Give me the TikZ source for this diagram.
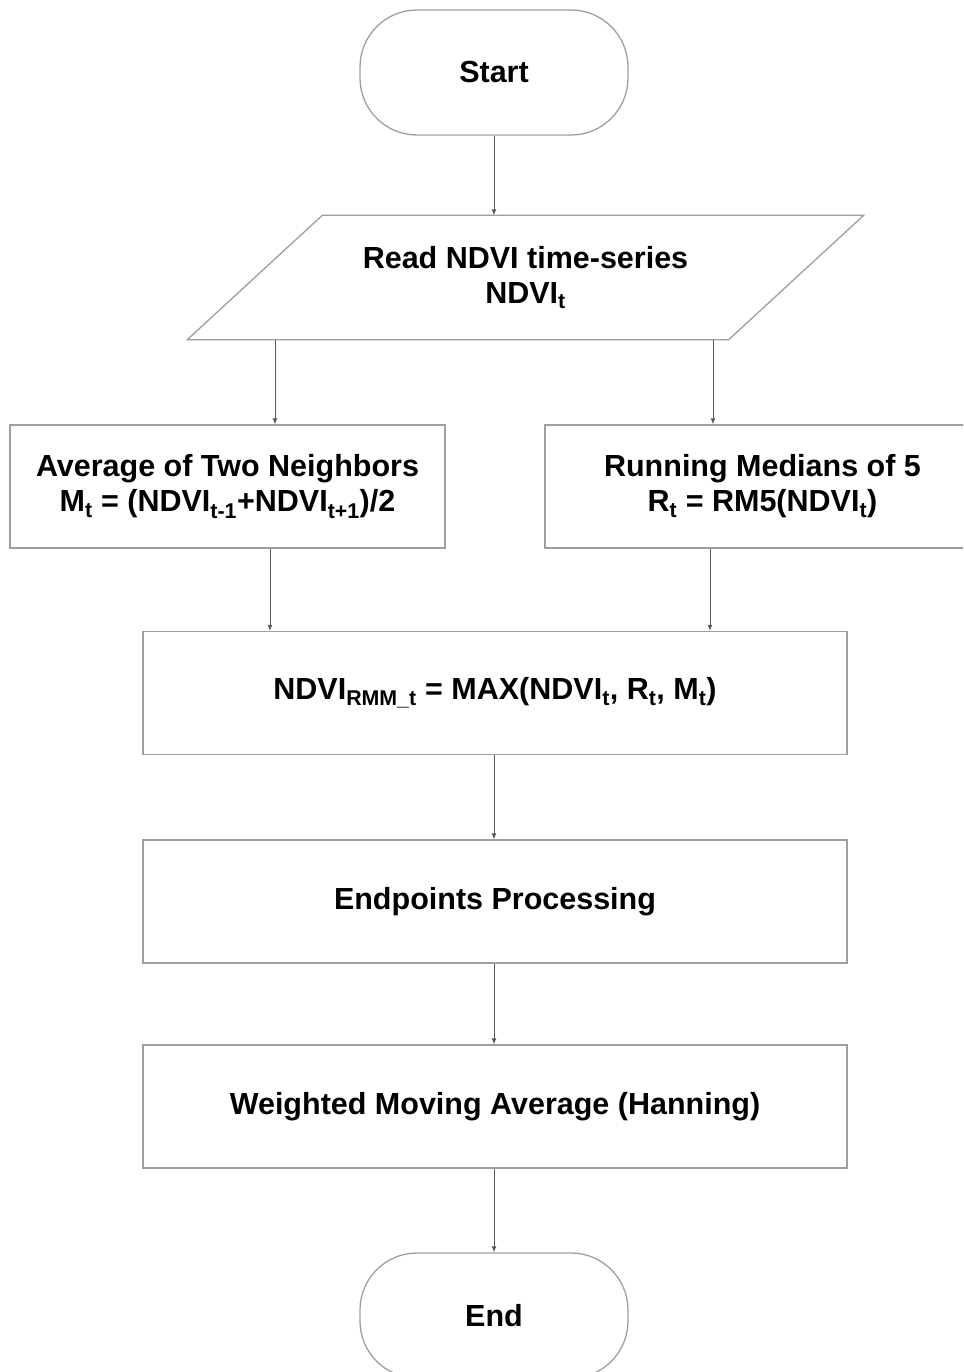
\documentclass[tikz,border=0pt]{standalone}
\usepackage{fontspec}
\setmainfont{Liberation Sans}
\usetikzlibrary{arrows.meta}
\newcommand{\lowsub}[1]{\textsubscript{#1}}
\begin{document}
\begin{tikzpicture}[x=1pt,y=-1pt,
  flowtext/.style={align=center,font=\fontsize{30.5}{35}\selectfont\bfseries},
  outline/.style={draw=gray!75,line width=1.3pt},
  termbox/.style={flowtext,outline,rectangle,rounded corners=57,minimum width=268,minimum height=125},
  iobox/.style={flowtext,rectangle,minimum width=541,minimum height=124},
  procbox/.style={flowtext,outline,rectangle,minimum width=704,minimum height=123},
  halfbox/.style={procbox,minimum width=435},
  arr/.style={draw=black!65,line width=1pt,-{Latex[length=6pt,width=5pt]}}]
	\useasboundingbox (0,0) rectangle (963,1372);
	\clip (0,0) rectangle (963,1372);
	\fill[white] (0,0) rectangle (963,1372);

	% flow chart nodes
	\node [termbox] (start) at (494,72.5) {Start};
	\node [iobox]   (read)  at (525.5,277.5) {Read NDVI time-series\\NDVI\lowsub{t}};
	\node [halfbox] (avg)   at (227.5,486.5) {Average of Two Neighbors\\M\lowsub{t} = (NDVI\lowsub{t-1}+NDVI\lowsub{t+1})/2};
	\node [halfbox] (run)   at (762.5,486.5) {Running Medians of 5\\R\lowsub{t} = RM5(NDVI\lowsub{t})};
	\node [procbox] (rmm)   at (495,693) {NDVI\lowsub{RMM\_t} = MAX(NDVI\lowsub{t}, R\lowsub{t}, M\lowsub{t})};
	\node [procbox] (endp)  at (495,901.5) {Endpoints Processing};
	\node [procbox] (hann)  at (495,1106.5) {Weighted Moving Average (Hanning)};
	\node [termbox] (stop)  at (494,1315.5) {End};

	% slanted sides of the input box
	\draw[outline] ([xshift=67.5]read.north west) -- ([xshift=67.5]read.north east)
		-- ([xshift=-67.5]read.south east) -- ([xshift=-67.5]read.south west) -- cycle;

	% branch columns
	\coordinate (inL)  at (275,0);
	\coordinate (inR)  at (713,0);
	\coordinate (outL) at (270,0);
	\coordinate (outR) at (710,0);

	\draw[arr] (start.south) -- (start.south |- read.north);
	\draw[arr] (read.south -| inL) -- (avg.north -| inL);
	\draw[arr] (read.south -| inR) -- (run.north -| inR);
	\draw[arr] (avg.south -| outL) -- (rmm.north -| outL);
	\draw[arr] (run.south -| outR) -- (rmm.north -| outR);
	\foreach \a/\b in {rmm/endp,endp/hann,hann/stop}
		\draw[arr] (\a.south -| stop) -- (\b.north -| stop);
\end{tikzpicture}
\end{document}
